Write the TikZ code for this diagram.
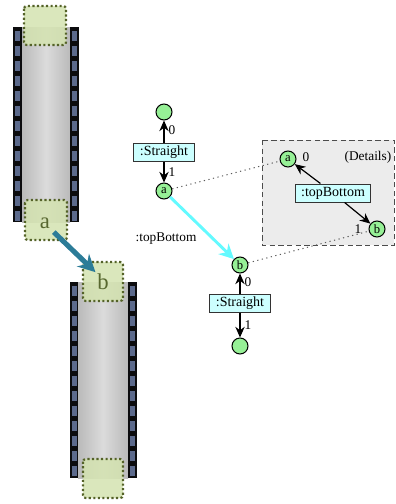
\documentclass[tikz,border=0pt]{standalone}
\usepackage{fontspec}
\setmainfont{Liberation Serif}
\usetikzlibrary{arrows.meta}

\definecolor{railblack}{RGB}{12,12,14}
\definecolor{holeblue}{RGB}{92,106,140}
\definecolor{tilegreen}{RGB}{212,227,176}
\definecolor{tileedge}{RGB}{84,98,40}
\definecolor{lettergreen}{RGB}{88,104,48}
\definecolor{jumpteal}{RGB}{44,124,152}
\definecolor{portgreen}{RGB}{150,240,150}
\definecolor{boxcyan}{RGB}{204,255,255}
\definecolor{linkcyan}{RGB}{100,250,255}
\definecolor{detailgray}{RGB}{236,236,236}

\tikzset{every picture/.style={line width=0.75pt}}
\tikzset{
  port/.style={circle,draw=black,fill=portgreen,minimum size=12pt,inner sep=0pt,font=\fontsize{9.5}{9.5}\selectfont},
  typebox/.style={draw=black!80,fill=boxcyan,minimum height=13.5pt,inner xsep=4.5pt,inner ysep=1pt,font=\fontsize{10.5}{12}\selectfont},
  link/.style={-{Stealth[length=8pt,width=7pt]},line width=0.9pt},
  endlabel/.style={font=\fontsize{10}{10}\selectfont,inner sep=1pt},
  tile/.style={draw=tileedge,line width=1.6pt,dash pattern={on 1.6pt off 1.8pt},rounded corners=2pt,fill=tilegreen,fill opacity=0.85},
  tileletter/.style={text=lettergreen,font=\fontsize{17}{17}\selectfont,inner sep=1pt}
}

\begin{document}
\begin{tikzpicture}[x=0.75pt,y=0.75pt,yscale=-1,xscale=1]
\useasboundingbox (0,0) rectangle (396,504);

%Film strip (upper)
\shade [left color=black!27,right color=black!27,middle color=black!14] (22,27) rectangle (70,222);
\fill [railblack] (13,27) rectangle (22,222);
\fill [railblack] (70,27) rectangle (79,222);
\foreach \y in {31,46,...,211} {
  \fill [holeblue] (15,\y) rectangle (20,\y+10);
  \fill [holeblue] (72,\y) rectangle (77,\y+10);
}
%Film strip (lower)
\shade [left color=black!27,right color=black!27,middle color=black!14] (78,282) rectangle (128,478);
\fill [railblack] (70,282) rectangle (78,478);
\fill [railblack] (128,282) rectangle (137,478);
\foreach \y in {286,301,...,466} {
  \fill [holeblue] (71.5,\y) rectangle (76.5,\y+10);
  \fill [holeblue] (130,\y) rectangle (135,\y+10);
}

%Tiles on the strips
\draw [tile] (24,6) rectangle (66,45);
\draw [tile] (25,200) rectangle (67,240);
\draw [tile] (83,262) rectangle (123,301);
\draw [tile] (83,459) rectangle (123,498);
\node [tileletter] (tileA) at (45,223) {a};
\node [tileletter] (tileB) at (103,282) {b};
\draw [-{Stealth[length=13pt,width=13pt]},jumpteal,line width=3.8pt,shorten <=2pt] (tileA.south east) -- (tileB.north west);

%Details panel
\draw [dash pattern={on 4pt off 2.5pt},draw=black!70,fill=detailgray] (262,140) rectangle (394,245);
\node [font=\fontsize{10}{10}\selectfont] (details) at (368,157) {(Details)};

%Upper segment
\node [port] (top1) at (164,112) {};
\node [typebox] (str1) at (164,152) {:Straight};
\node [port] (a) at (164,191) {a};
\draw [link] (str1) -- node [endlabel,right,pos=0.55,xshift=2pt] {0} (top1);
\draw [link] (str1) -- node [endlabel,right,pos=0.5,xshift=2pt] {1} (a);

%Lower segment
\node [port] (b) at (240,265) {b};
\node [typebox] (str2) at (240,303) {:Straight};
\node [port] (bot2) at (240,346) {};
\draw [link] (str2) -- node [endlabel,right,pos=0.55,xshift=2pt] {0} (b);
\draw [link] (str2) -- node [endlabel,right,pos=0.5,xshift=2pt] {1} (bot2);

%Joining piece, shown in the panel
\node [port] (da) at (288,159) {a};
\node [typebox] (tb) at (333,193) {:topBottom};
\node [port] (db) at (377,229) {b};
\node [endlabel] (da0) at (306,157) {0};
\node [endlabel] (db1) at (358,229) {1};
\draw [link] (tb) -- (da);
\draw [link] (tb) -- (db);

%Connection a -> b
\draw [-{Stealth[length=11pt,width=11pt]},linkcyan,line width=2.2pt] (a) -- (b);
\node [font=\fontsize{10}{10}\selectfont] (join) at (166,239) {:topBottom};

%Dotted references to the panel
\draw [black!65,dash pattern={on 0.9pt off 2.6pt}] (a) -- (da);
\draw [black!65,dash pattern={on 0.9pt off 2.6pt}] (b) -- (db);

\end{tikzpicture}
\end{document}
